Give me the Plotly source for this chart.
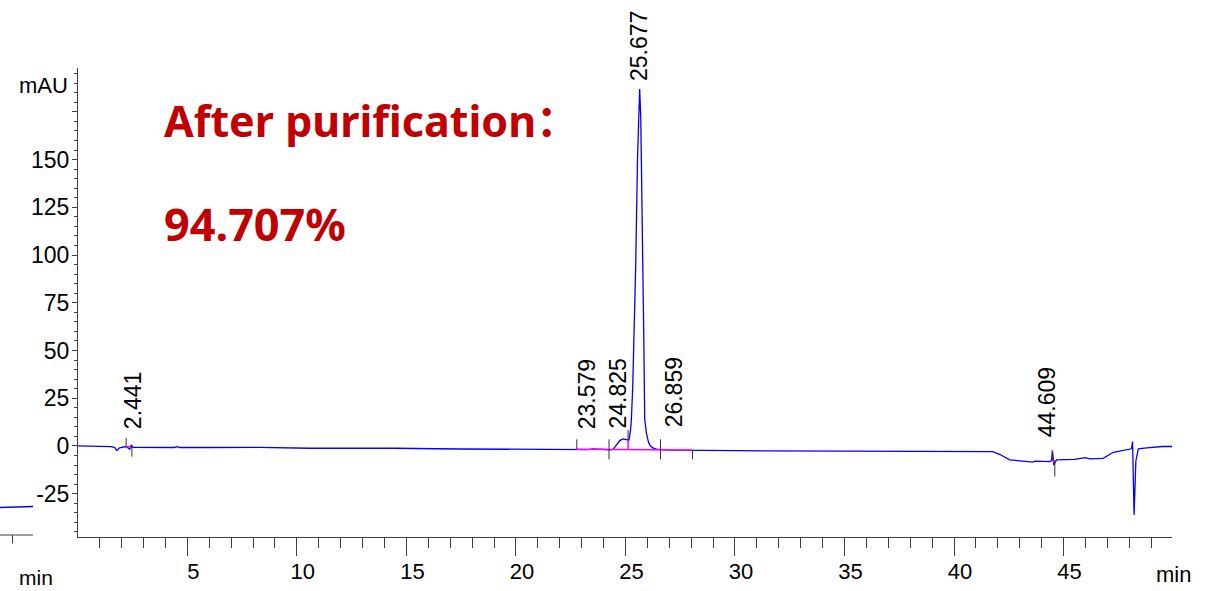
import plotly.graph_objects as go

# ---------------- data ----------------
time_min = [0.0, 0.8, 1.5, 1.68, 1.79, 1.91, 2.05, 2.21, 2.37, 2.44, 2.52, 3.0, 4.4, 4.53, 4.65,
            6.0, 8.3, 10.6, 14.4, 17.4, 20.0, 22.5, 23.3, 23.5, 23.7, 23.9, 24.3, 24.44, 24.55,
            24.65, 24.74, 24.89, 25.05, 25.16, 25.23, 25.27, 25.33, 25.39, 25.47, 25.55, 25.60,
            25.65, 25.70, 25.73, 25.78, 25.84, 25.88, 25.96, 26.05, 26.11, 26.25, 26.42, 27.0,
            28.0, 30.0, 35.0, 40.27, 41.77, 42.1, 42.54, 43.0, 43.6, 43.7, 44.37, 44.45, 44.5,
            44.55, 44.62, 44.68, 45.5, 45.98, 46.2, 46.81, 47.27, 48.1, 48.15, 48.22, 48.3,
            48.41, 48.8, 49.4, 49.5, 49.95]
signal_mau = [0.0, -0.1, -0.4, -0.7, -2.4, -1.0, -0.5, -0.3, -1.7, 0.5, -0.7, -0.7, -0.8, -0.4, -0.8,
              -0.8, -0.7, -1.2, -1.2, -1.6, -1.7, -1.9, -1.9, -1.5, -1.6, -2.0, -2.0, -1.8, 0.0,
              2.0, 2.8, 3.7, 3.1, 3.0, 8.0, 13.6, 30.0, 55.0, 95.0, 150.0, 175.0,
              187.0, 172.0, 150.0, 100.0, 55.0, 14.0, 6.6, 2.0, 0.5, -1.0, -1.7, -2.2,
              -2.4, -2.5, -2.7, -3.0, -3.0, -4.5, -7.3, -7.8, -8.5, -8.0, -8.2, -7.5, -3.0,
              -10.0, -8.0, -7.3, -7.0, -6.1, -6.8, -6.5, -3.3, -1.5, 2.3, -36.1, -8.0,
              -1.5, -1.0, -0.4, -0.3, -0.3]

peak_rt = [2.441, 23.579, 24.825, 25.677, 26.859, 44.609]
peak_label_y = [8.4, 8.4, 8.4, 190.8, 9.3, 4.0]
peak_label_shift_px = [2, -7, -4, -2, 8, -8]

# integration baselines (magenta)
base_t = [2.21, 2.47, None, 22.73, 28.06, None, 44.48, 44.60, None, 25.12, 25.12]
base_y = [-0.3, -0.7, None, -1.7, -2.1, None, -7.5, -9.0, None, 3.1, -1.9]

# integration event marks (start / end)
event_t = [2.21, 2.47, 22.78, 24.25, 25.12, 26.60, 28.06, 44.48, 44.60]
event_y0 = [0.0, 0.0, -1.7, -7.0, 3.1, -7.0, -7.0, -2.1, -7.3]
event_y1 = [4.3, -5.6, 3.5, 3.5, 8.4, 3.5, -2.1, -7.3, -16.0]

x_tick_vals = [5, 10, 15, 20, 25, 30, 35, 40, 45]
y_tick_vals = [-25, 0, 25, 50, 75, 100, 125, 150, 175]
y_tick_text = ["-25", "0", "25", "50", "75", "100", "125", "150", ""]

title_line1 = "After purification："
title_line2 = "94.707%"

# ---------------- figure ----------------
W, H = 1206, 591
L, R, T, B = 78, 34, 68, 54
PW, PH = W - L - R, H - T - B


def px_x(p):
    return (p - L) / PW


def px_y(p):
    return (H - B - p) / PH


AX = "#404040"
FONT = "Liberation Sans, Arial, sans-serif"
TFONT = "Noto Sans, Noto Sans CJK SC, sans-serif"

fig = go.Figure()
fig.add_trace(go.Scatter(x=time_min, y=signal_mau, mode="lines",
                         line=dict(color="#0000FF", width=1.3), hoverinfo="skip"))
fig.add_trace(go.Scatter(x=base_t, y=base_y, mode="lines",
                         line=dict(color="#FF00FF", width=1.5), hoverinfo="skip"))
ev_x, ev_y = [], []
for t, a, b in zip(event_t, event_y0, event_y1):
    ev_x += [t, t, None]
    ev_y += [a, b, None]
fig.add_trace(go.Scatter(x=ev_x, y=ev_y, mode="lines",
                         line=dict(color="#303030", width=1), hoverinfo="skip"))

annotations = []
for rt, ly, sh in zip(peak_rt, peak_label_y, peak_label_shift_px):
    annotations.append(dict(x=rt, y=ly, xref="x", yref="y", text=f"{rt:.3f}",
                            textangle=-90, showarrow=False, xanchor="center",
                            yanchor="bottom", xshift=sh, borderpad=0,
                            font=dict(family=FONT, size=23, color="black")))

annotations.append(dict(x=px_x(162), y=px_y(121), xref="paper", yref="paper",
                        text=title_line1, showarrow=False, xanchor="left", yanchor="middle",
                        font=dict(family=TFONT, size=43, color="#C00000", weight="bold")))
annotations.append(dict(x=px_x(162), y=px_y(223), xref="paper", yref="paper",
                        text=title_line2, showarrow=False, xanchor="left", yanchor="middle",
                        font=dict(family=TFONT, size=45, color="#C00000", weight="bold")))
annotations.append(dict(x=px_x(70), y=px_y(86), xref="paper", yref="paper", text="mAU",
                        showarrow=False, xanchor="right", yanchor="middle",
                        font=dict(family=FONT, size=22, color="black")))
annotations.append(dict(x=px_x(1173), y=px_y(574), xref="paper", yref="paper", text="min",
                        showarrow=False, xanchor="center", yanchor="middle",
                        font=dict(family=FONT, size=22, color="black")))
annotations.append(dict(x=px_x(35.5), y=px_y(577), xref="paper", yref="paper", text="min",
                        showarrow=False, xanchor="center", yanchor="middle",
                        font=dict(family=FONT, size=21, color="black")))

shapes = [
    dict(type="line", xref="paper", yref="paper", x0=px_x(0), x1=px_x(33),
         y0=px_y(507.5), y1=px_y(506.5), line=dict(color="#0000FF", width=1.3)),
    dict(type="line", xref="paper", yref="paper", x0=px_x(0), x1=px_x(33),
         y0=px_y(535), y1=px_y(535), line=dict(color=AX, width=1)),
    dict(type="line", xref="paper", yref="paper", x0=px_x(12.5), x1=px_x(12.5),
         y0=px_y(535), y1=px_y(543.5), line=dict(color=AX, width=1)),
]

fig.update_layout(
    width=W, height=H, margin=dict(l=L, r=R, t=T, b=B, pad=0, autoexpand=False),
    paper_bgcolor="white", plot_bgcolor="white", showlegend=False,
    annotations=annotations, shapes=shapes,
    xaxis=dict(range=[0.01, 49.95], showline=True, linecolor=AX, linewidth=1,
               mirror=False, showgrid=False, zeroline=False, automargin=False,
               tickmode="array", tickvals=x_tick_vals, ticks="outside",
               ticklen=18, tickwidth=1, tickcolor=AX, ticklabelshift=6,
               ticklabelstandoff=-3,
               tickfont=dict(family=FONT, size=22, color="black"),
               minor=dict(tickmode="linear", tick0=0, dtick=1, ticks="outside",
                          ticklen=10, tickwidth=1, tickcolor=AX, showgrid=False)),
    yaxis=dict(range=[-47.7, 198.0], showline=True, linecolor=AX, linewidth=1,
               showgrid=False, zeroline=False, automargin=False,
               tickmode="array", tickvals=y_tick_vals, ticktext=y_tick_text,
               ticks="outside", ticklen=5, tickwidth=1, tickcolor=AX,
               ticklabelstandoff=-2,
               tickfont=dict(family=FONT, size=23, color="black"),
               minor=dict(tickmode="linear", tick0=0, dtick=5, ticks="outside",
                          ticklen=3, tickwidth=1, tickcolor=AX, showgrid=False)),
)

fig.write_html("out.html")
